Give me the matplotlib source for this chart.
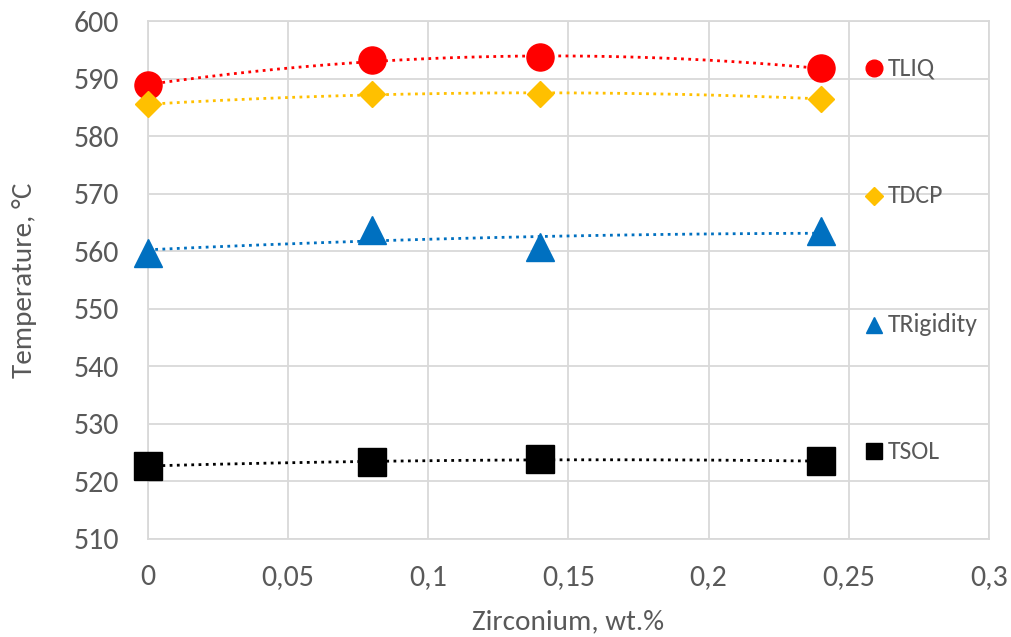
import numpy as np
import matplotlib
matplotlib.use("Agg")
import matplotlib.pyplot as plt
from matplotlib import font_manager as fm

avail = {f.name for f in fm.fontManager.ttflist}
fams = [f for f in ['Carlito', 'Open Sans', 'DejaVu Sans'] if f in avail]
plt.rcParams['font.family'] = fams

zr = [0.0, 0.08, 0.14, 0.24]
t_liq = [588.9, 593.2, 593.7, 591.8]
t_dcp = [585.5, 587.3, 587.4, 586.5]
t_rig = [559.7, 563.7, 560.8, 563.5]
t_sol = [522.7, 523.4, 523.8, 523.5]
labels = ["TLIQ", "TDCP", "TRigidity", "TSOL"]
xticks = [0, 0.05, 0.1, 0.15, 0.2, 0.25, 0.3]
xticklabels = ["0", "0,05", "0,1", "0,15", "0,2", "0,25", "0,3"]
yticks = [510, 520, 530, 540, 550, 560, 570, 580, 590, 600]

# (values, colour, marker, plot size, legend size)
series = [
    (t_liq, "#FF0000", "o", 19.5, 12),
    (t_dcp, "#FFC000", "D", 13.7, 8.7),
    (t_rig, "#0070C0", "^", 19.5, 12),
    (t_sol, "#000000", "s", 19.5, 11),
]

fig = plt.figure(figsize=(10.11, 6.37), dpi=100)
ax = fig.add_axes([0.1464, 0.154, 0.8316, 0.813])

xs = np.linspace(0, 0.24, 200)
for (vals, col, mk, ms, lms), lab in zip(series, labels):
    c = np.polyfit(zr, vals, 2)
    ax.plot(xs, np.polyval(c, xs), linestyle=(0, (1, 1.6)), color=col, lw=2, zorder=2)
    ax.plot(zr, vals, linestyle="none", marker=mk, markersize=ms, color=col, zorder=3, clip_on=False)

ax.set_xlim(0, 0.3)
ax.set_ylim(510, 600)
ax.set_xticks(xticks)
ax.set_xticklabels(xticklabels)
ax.set_yticks(yticks)
ax.grid(True, color="#d9d9d9", lw=1.3)
ax.set_axisbelow(True)
for s in ax.spines.values():
    s.set_color("#d9d9d9")
    s.set_linewidth(1.3)
ax.tick_params(axis="y", length=0, labelsize=21.5, colors="#595959", pad=21)
ax.tick_params(axis="x", length=0, labelsize=21.5, colors="#595959", pad=18)
ax.set_xlabel("Zirconium, wt.%", fontsize=21, color="#595959", labelpad=14)
ax.set_ylabel("Temperature, °C", fontsize=21, color="#595959", labelpad=26)

ypos = [591.8, 569.6, 547.2, 525.2]
for (vals, col, mk, ms, lms), lab, yp in zip(series, labels, ypos):
    ax.plot([0.2589], [yp], linestyle="none", marker=mk, markersize=lms,
            color=col, clip_on=False, zorder=4)
    ax.text(0.2639, yp, lab, fontsize=18.5, color="#595959", va="center", ha="left")

fig.savefig("out.png", dpi=100)
